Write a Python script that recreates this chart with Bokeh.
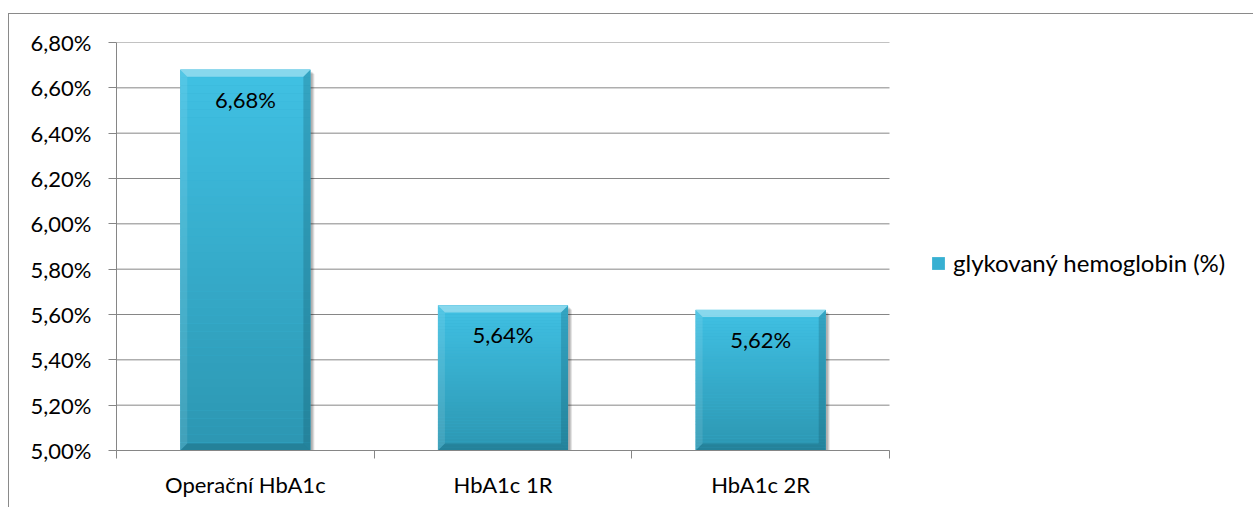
from bokeh.plotting import figure
from bokeh.models import FixedTicker, Legend, LegendItem, Range1d
from bokeh.core.properties import value
from bokeh.embed import file_html
from bokeh.resources import INLINE

# --- data ---
categories = ["Operační HbA1c", "HbA1c 1R", "HbA1c 2R"]
hba1c = [6.68, 5.64, 5.62]
series_name = "glykovaný hemoglobin (%)"
y_ticks = [5.0, 5.2, 5.4, 5.6, 5.8, 6.0, 6.2, 6.4, 6.6, 6.8]
y_tick_labels = ["5,00%", "5,20%", "5,40%", "5,60%", "5,80%",
                 "6,00%", "6,20%", "6,40%", "6,60%", "6,80%"]

def pct(v):
    return f"{v:.2f}".replace(".", ",") + "%"

FONT = "Lato"
FSIZE = "22px"
GRAY = "#868686"
Y0, Y1 = 5.0, 6.8

FIG_W, FIG_H = 1245, 494
LEFT, TOP, BOTTOM = 107, 28, 58
PLOT_W = 773                      # width taken by the category area
FRAME_W = FIG_W - LEFT            # frame runs to the right edge (legend lives there)
FRAME_H = FIG_H - TOP - BOTTOM
BAR_W = 0.505

n = len(categories)
centers = [i + 0.5 for i in range(n)]
base = Y0
x_end = n * FRAME_W / PLOT_W

p = figure(width=FIG_W, height=FIG_H, output_backend="svg", toolbar_location=None,
           x_range=Range1d(0, x_end), y_range=Range1d(Y0, Y1),
           min_border_left=LEFT, min_border_right=0, min_border_top=TOP,
           min_border_bottom=BOTTOM, margin=(13, 0, 0, 8))
p.styles = {"border-left": "1px solid #8a8a8a", "border-top": "1px solid #8a8a8a"}
p.outline_line_color = None
p.background_fill_color = "white"
p.border_fill_color = "white"

# pixel -> data unit helpers
dx = x_end / FRAME_W
dy = (Y1 - Y0) / FRAME_H

# horizontal grid lines limited to the category area
p.segment(x0=[0] * len(y_ticks), x1=[n] * len(y_ticks), y0=y_ticks, y1=y_ticks,
          line_color=GRAY, line_width=1)

# soft drop shadow
for off, a in [(4, 0.10), (3, 0.12), (2, 0.12)]:
    p.quad(left=[c - BAR_W / 2 + off * dx for c in centers],
           right=[c + BAR_W / 2 + off * dx for c in centers],
           top=[v - off * dy for v in hba1c], bottom=[base] * n,
           fill_color="black", fill_alpha=a, line_color=None)

# base bar (also used for the legend swatch)
bars = p.vbar(x=centers, top=hba1c, bottom=base, width=BAR_W,
              fill_color="#37b0d2", line_color=None)

# vertical gradient built from horizontal slices of each bar
top_rgb = (0x40, 0xc1, 0xe4)
bot_rgb = (0x2c, 0x96, 0xb1)
N = 48
sl, sr, st, sb, sc = [], [], [], [], []
for c, v in zip(centers, hba1c):
    for k in range(N):
        f0 = k / N
        f1 = (k + 1) / N
        sl.append(c - BAR_W / 2)
        sr.append(c + BAR_W / 2)
        sb.append(base + (v - base) * f0)
        st.append(base + (v - base) * f1 + 0.0005)
        t = (f0 + f1) / 2
        rgb = tuple(int(round(b + (a - b) * t)) for a, b in zip(top_rgb, bot_rgb))
        sc.append("#%02x%02x%02x" % rgb)
p.quad(left=sl, right=sr, top=st, bottom=sb, fill_color=sc, line_color=None)

# bevel edges
W = 7
top_x, top_y, left_x, left_y, right_x, right_y, bot_x, bot_y = ([] for _ in range(8))
for c, v in zip(centers, hba1c):
    xl, xr = c - BAR_W / 2, c + BAR_W / 2
    ix, iy = W * dx, W * dy
    top_x.append([xl, xr, xr - ix, xl + ix]); top_y.append([v, v, v - iy, v - iy])
    left_x.append([xl, xl + ix, xl + ix, xl]); left_y.append([v, v - iy, base + iy, base])
    right_x.append([xr, xr, xr - ix, xr - ix]); right_y.append([v, base, base + iy, v - iy])
    bot_x.append([xl, xr, xr - ix, xl + ix]); bot_y.append([base, base, base + iy, base + iy])
p.patches(top_x, top_y, fill_color="white", fill_alpha=0.38, line_color=None)
p.patches(left_x, left_y, fill_color="white", fill_alpha=0.10, line_color=None)
p.patches(right_x, right_y, fill_color="#0b3f4c", fill_alpha=0.22, line_color=None)
p.patches(bot_x, bot_y, fill_color="#0b3f4c", fill_alpha=0.24, line_color=None)

# value labels inside the bars
p.text(x=centers, y=hba1c, text=[pct(v) for v in hba1c], text_align="center",
       text_baseline="top", y_offset=16, text_font=value(FONT),
       text_font_size=FSIZE, text_color="black")

# y axis
p.yaxis.ticker = FixedTicker(ticks=y_ticks)
p.yaxis.major_label_overrides = dict(zip(y_ticks, y_tick_labels))
p.yaxis.axis_line_color = GRAY
p.yaxis.major_tick_line_color = GRAY
p.yaxis.major_tick_out = 8
p.yaxis.major_tick_in = 0
p.yaxis.minor_tick_line_color = None
p.yaxis.major_label_standoff = 17
p.yaxis.major_label_text_font = FONT
p.yaxis.major_label_text_font_size = FSIZE
p.yaxis.major_label_text_color = "black"

# x axis: labels at category centres, ticks at category boundaries
p.xaxis.bounds = (0, n)
p.xaxis.ticker = FixedTicker(ticks=centers, minor_ticks=list(range(n + 1)))
p.xaxis.major_label_overrides = dict(zip(centers, categories))
p.xaxis.axis_line_color = GRAY
p.xaxis.major_tick_line_color = None
p.xaxis.major_tick_out = 0
p.xaxis.major_tick_in = 0
p.xaxis.minor_tick_line_color = GRAY
p.xaxis.minor_tick_out = 8
p.xaxis.minor_tick_in = 0
p.xaxis.major_label_standoff = 12
p.xaxis.major_label_text_font = FONT
p.xaxis.major_label_text_font_size = FSIZE
p.xaxis.major_label_text_color = "black"

p.xgrid.visible = False
p.ygrid.visible = False

legend = Legend(items=[LegendItem(label=series_name, renderers=[bars])],
                location=(814, 173), orientation="vertical",
                glyph_width=16, glyph_height=16, label_standoff=7,
                padding=0, margin=0, spacing=0,
                border_line_color=None, background_fill_alpha=0,
                label_text_font=FONT, label_text_font_size="24px",
                label_text_color="black")
p.add_layout(legend, "center")

open("out.html", "w").write(file_html(p, INLINE))
